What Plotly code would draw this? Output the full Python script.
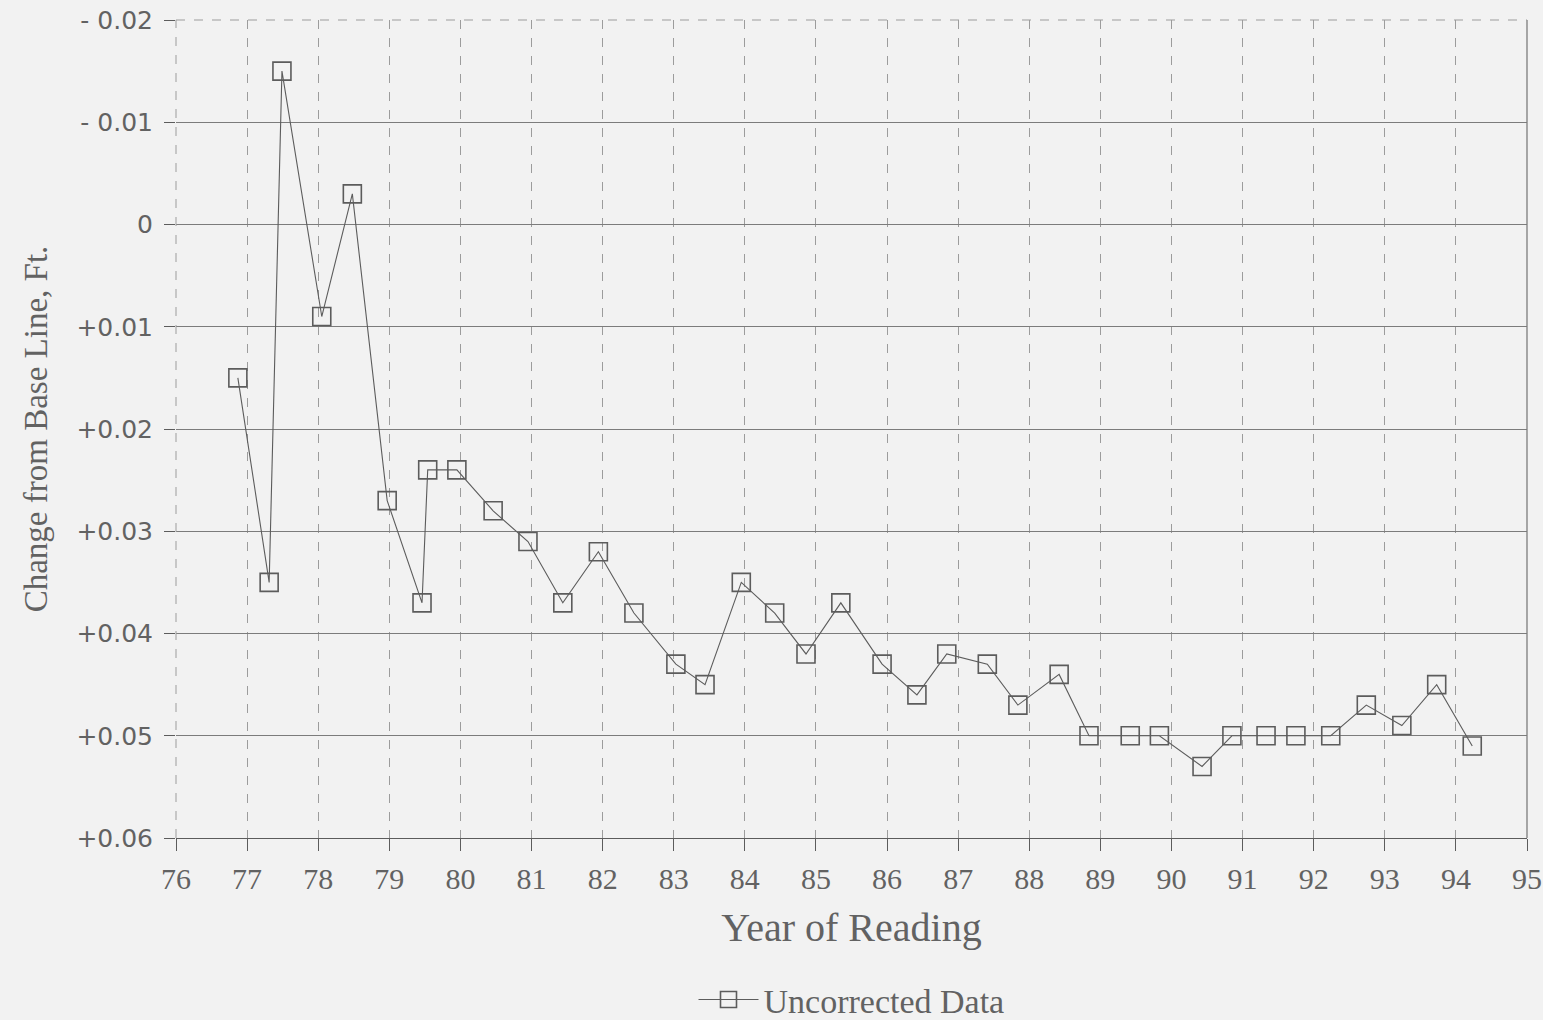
import plotly.graph_objects as go

years = [76.87, 77.31, 77.49, 78.05, 78.48, 78.97, 79.46, 79.54, 79.95, 80.46,
         80.95, 81.44, 81.94, 82.44, 83.03, 83.44, 83.95, 84.42, 84.86, 85.35,
         85.93, 86.42, 86.84, 87.41, 87.84, 88.42, 88.84, 89.42, 89.83, 90.43,
         90.85, 91.33, 91.75, 92.24, 92.74, 93.24, 93.73, 94.23]
change = [0.015, 0.035, -0.015, 0.009, -0.003, 0.027, 0.037, 0.024, 0.024, 0.028,
          0.031, 0.037, 0.032, 0.038, 0.043, 0.045, 0.035, 0.038, 0.042, 0.037,
          0.043, 0.046, 0.042, 0.043, 0.047, 0.044, 0.050, 0.050, 0.050, 0.053,
          0.050, 0.050, 0.050, 0.050, 0.047, 0.049, 0.045, 0.051]

y_tickvals = [-0.02, -0.01, 0, 0.01, 0.02, 0.03, 0.04, 0.05, 0.06]
y_ticktext = ["- 0.02", "- 0.01", "0", "+0.01", "+0.02", "+0.03", "+0.04", "+0.05", "+0.06"]
x_tickvals = list(range(76, 96))
x_ticktext = [str(v) for v in x_tickvals]

ink = "#5c5c5c"
txt = "#626262"
bg = "#f2f2f2"
serif = "Liberation Serif, Times New Roman, serif"

fig = go.Figure()
fig.add_trace(go.Scatter(
    x=years, y=change, mode="lines+markers", name="Uncorrected Data",
    line=dict(color=ink, width=1.1),
    marker=dict(symbol="square-open", size=18, color=ink, line=dict(width=1.6, color=ink)),
))

fig.update_layout(
    width=1543, height=1020,
    paper_bgcolor=bg, plot_bgcolor=bg,
    margin=dict(l=176, r=16, t=20, b=182, autoexpand=False),
    showlegend=True,
    legend=dict(orientation="h", x=0.5, xanchor="center", y=-0.198, yanchor="middle",
                itemwidth=60,
                font=dict(family=serif, size=34, color=txt),
                bgcolor="rgba(0,0,0,0)"),
    font=dict(family=serif, color=txt),
)

fig.update_xaxes(
    range=[76, 95], tickvals=x_tickvals, ticktext=x_ticktext,
    automargin=False,
    showgrid=True, gridcolor="#9c9c9c", gridwidth=1, griddash="dash",
    ticks="outside", ticklen=12, tickcolor=ink, tickwidth=1.2,
    ticklabelstandoff=2,
    showline=True, linecolor=ink, linewidth=1.3, mirror=False,
    zeroline=False,
    tickfont=dict(family=serif, size=30, color=txt),
    title=dict(text="Year of Reading", font=dict(family=serif, size=40, color=txt),
               standoff=18),
)
fig.update_yaxes(
    range=[0.06, -0.02], tickvals=y_tickvals, ticktext=y_ticktext,
    automargin=False,
    showgrid=True, gridcolor="#7c7c7c", gridwidth=1.3,
    ticks="outside", ticklen=11, tickcolor=ink, tickwidth=1.2,
    ticklabelstandoff=6,
    showline=False, zeroline=False,
    tickfont=dict(family="DejaVu Sans", size=25, color=txt),
    title=dict(text="Change from Base Line, Ft.",
               font=dict(family=serif, size=33, color=txt), standoff=18),
)

# plot frame pieces: right border, dashed top and left edges
fig.add_shape(type="line", xref="paper", yref="paper", x0=1, x1=1, y0=0, y1=1,
              line=dict(color="#7c7c7c", width=1.3))
fig.add_shape(type="line", xref="paper", yref="paper", x0=0, x1=1, y0=1, y1=1,
              line=dict(color="#9c9c9c", width=1.2, dash="dash"))
fig.add_shape(type="line", xref="paper", yref="paper", x0=0, x1=0, y0=0, y1=1,
              line=dict(color="#9c9c9c", width=1, dash="dash"))

fig.write_html("out.html",
               config={"displayModeBar": False},
               post_script="document.body.style.margin='0px';"
                           "document.body.style.overflow='hidden';"
                           "document.body.style.background='#f2f2f2';")
